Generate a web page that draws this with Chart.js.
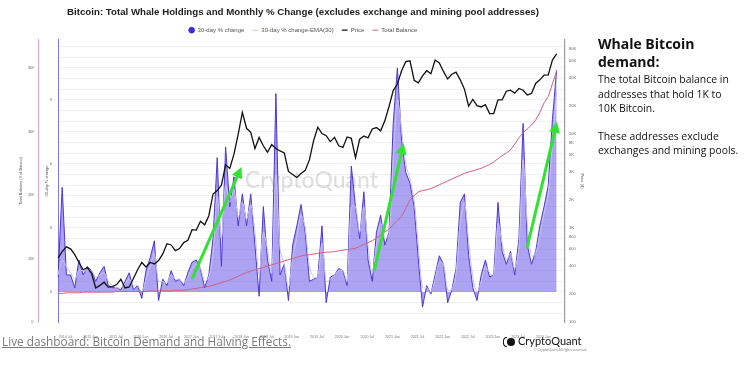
<!DOCTYPE html>
<html><head><meta charset="utf-8">
<script src="https://cdn.jsdelivr.net/npm/chart.js@4.4.1/dist/chart.umd.min.js"></script>
<style>
html,body{margin:0;padding:0;background:#fff;width:750px;height:379px;overflow:hidden;}
body{position:relative;}
#wrap{position:absolute;left:0;top:0;width:606px;height:340px;}
#side{position:absolute;left:598px;top:35px;width:152px;font-family:'Open Sans',sans-serif;color:#111;}
#side .h{font-weight:700;font-size:14px;line-height:18px;}
#side .p{font-size:10.4px;line-height:14.5px;margin-top:1px;}
#side .p2{margin-top:13px;}
#link{position:absolute;left:2px;top:333px;font-family:'Open Sans',sans-serif;font-size:11.8px;color:#7a7a7a;text-decoration:underline;white-space:nowrap;}
#logo{position:absolute;left:507px;top:334px;width:80px;font-family:'Lato','Open Sans',sans-serif;color:#111;}
#logo .t{font-size:11px;line-height:13px;white-space:nowrap;}
#logo .i{display:inline-block;width:8px;height:8px;border-radius:50%;background:#111;vertical-align:-1px;margin-right:3px;position:relative;}
#logo .i:before{content:'';position:absolute;left:-4px;top:-1px;width:4px;height:10px;border:1.6px solid #111;border-right:none;border-radius:6px 0 0 6px;box-sizing:border-box;}
#logo .c{font-size:3.5px;color:#888;text-align:right;margin-top:1px;white-space:nowrap;}
</style></head><body>
<div id="wrap"><canvas id="c" width="606" height="340" style="width:606px;height:340px"></canvas></div>
<div id="side">
  <div class="h">Whale Bitcoin<br>demand:</div>
  <div class="p">The total Bitcoin balance in<br>addresses that hold 1K to<br>10K Bitcoin.</div>
  <div class="p p2">These addresses exclude<br>exchanges and mining pools.</div>
</div>
<div id="link">Live dashboard: Bitcoin Demand and Halving Effects.</div>
<div id="logo"><div class="t"><span class="i"></span>CryptoQuant</div><div class="c">© CryptoQuant All rights reserved.</div></div>
<script>
// ---- data (monthly, starting 2014 Apr) ----
const startYear = 2014, startMonth = 4, monthCount = 122; // axis runs to 2024 May
const monthNames = ['Jan','Feb','Mar','Apr','May','Jun','Jul','Aug','Sep','Oct','Nov','Dec'];

// 30-day % change
const pctChange = [
  0.7, 4.9, 0.8, 0.8, 0.2, 1.5, 0.8, 1.2, 1.0,
  0.5, 0.9, 1.2, 0.3, 0.2, 0.2, 0.1, 0.5, 0.9, 0.1, 0.3, -0.3,
  1.0, 1.6, 2.4, -0.4, 0.6, 0.3, 1.0, 0.5, 0.6, 0.3, 0.9, 1.4,
  1.5, 1.1, 0.2, 0.8, 2.5, 6.3, 1.2, 6.8, 4.0, 5.4, 3.1, 4.6,
  3.1, 4.6, 2.2, -0.2, 4.0, 1.5, 0.5, 9.3, 0.8, 1.3, -0.4, 2.2,
  3.1, 4.1, 2.8, 0.5, 0.6, 0.7, 3.1, -0.5, 0.7, 0.8, 1.1, 1.0,
  0.3, 5.9, 4.0, 2.5, 4.7, 1.5, 0.5, 2.8, 3.6, 2.2, 2.8, 7.9,
  10.5, 7.1, 5.6, 5.1, 4.0, 1.5, -0.7, 0.3, -0.1, 0.8, 1.7, 1.3,
  -0.5, 0.1, 1.1, 4.2, 4.6, 1.7, 0.2, -0.4, 0.8, 1.5, 0.7, 0.8,
  4.2, 1.9, 1.3, 1.9, 0.8, 2.5, 7.9, 2.2, 1.3, 1.9, 3.1, 4.0,
  5.0, 8.1, 10.4
];
// 30-day % change EMA(30)
const pctEma = [
  0.8, 1.5, 1.2, 0.9, 0.6, 1.0, 1.0, 1.0, 1.0,
  0.7, 0.8, 0.9, 0.5, 0.3, 0.2, 0.2, 0.4, 0.6, 0.3, 0.3, 0.0,
  0.6, 1.2, 1.8, 0.5, 0.5, 0.4, 0.8, 0.6, 0.6, 0.4, 0.7, 1.1,
  1.3, 1.1, 0.5, 0.7, 1.8, 4.5, 2.5, 5.0, 4.2, 4.8, 3.5, 4.2,
  3.4, 4.1, 2.8, 0.8, 2.8, 2.0, 0.9, 5.5, 2.0, 1.3, 0.2, 1.6,
  2.6, 3.6, 3.0, 1.2, 0.7, 0.7, 2.3, 0.5, 0.6, 0.8, 1.0, 1.0,
  0.5, 4.0, 4.0, 2.8, 4.0, 2.2, 0.9, 2.2, 3.2, 2.5, 2.7, 6.2,
  9.0, 7.6, 6.0, 5.3, 4.3, 2.2, 0.2, 0.2, 0.0, 0.6, 1.4, 1.3,
  0.1, 0.1, 0.9, 3.3, 4.2, 2.4, 0.7, 0.0, 0.5, 1.2, 0.9, 0.8,
  3.2, 2.3, 1.5, 1.8, 1.1, 2.1, 6.2, 3.2, 1.7, 1.8, 2.7, 3.7,
  4.6, 7.0, 9.4
];
// Price ($)
const price = [
  480, 560, 630, 600, 520, 430, 360, 380, 330,
  230, 245, 265, 235, 238, 250, 285, 230, 236, 290, 360, 430,
  385, 430, 415, 450, 530, 680, 660, 575, 605, 700, 740, 960,
  950, 1180, 1080, 1350, 2300, 2500, 2850, 4700, 4300, 6100, 9900, 17000,
  11500, 10400, 7000, 9200, 7500, 6400, 7700, 7000, 6600, 6300, 4000, 3700,
  3450, 3800, 4100, 5300, 8500, 11800, 10100, 9600, 8300, 9200, 7500, 7200,
  9300, 9000, 5600, 8800, 9500, 9100, 11300, 11700, 10800, 13800, 19600, 29000,
  34000, 47000, 58800, 60000, 37300, 35000, 41500, 47100, 43800, 61300, 57000, 46300,
  38500, 43200, 45500, 37700, 30000, 19800, 23300, 20000, 19400, 20500, 16500, 16500,
  23100, 23100, 28500, 29300, 27200, 30500, 29200, 26000, 27000, 34500, 37700, 42300,
  42600, 61200, 71000
];
// Total Balance (millions of BTC)
const totalBalance = [
  0.45, 0.45, 0.46, 0.46, 0.46, 0.46, 0.47, 0.47, 0.47,
  0.47, 0.47, 0.47, 0.47, 0.47, 0.48, 0.48, 0.48, 0.48, 0.48, 0.48, 0.48,
  0.48, 0.49, 0.49, 0.49, 0.49, 0.49, 0.49, 0.50, 0.50, 0.50, 0.51, 0.52,
  0.53, 0.54, 0.55, 0.56, 0.58, 0.60, 0.62, 0.64, 0.66, 0.69, 0.72, 0.75,
  0.78, 0.80, 0.82, 0.84, 0.86, 0.88, 0.90, 0.92, 0.94, 0.96, 0.98, 1.00,
  1.02, 1.04, 1.05, 1.06, 1.07, 1.08, 1.09, 1.10, 1.10, 1.11, 1.12, 1.13,
  1.14, 1.15, 1.16, 1.19, 1.22, 1.25, 1.28, 1.32, 1.37, 1.42, 1.46, 1.53,
  1.60, 1.66, 1.79, 1.92, 1.99, 2.05, 2.07, 2.08, 2.10, 2.13, 2.16, 2.19,
  2.22, 2.25, 2.28, 2.31, 2.34, 2.36, 2.38, 2.40, 2.42, 2.45, 2.48, 2.52,
  2.57, 2.62, 2.66, 2.71, 2.80, 2.90, 2.98, 3.04, 3.10, 3.18, 3.30, 3.45,
  3.55, 3.75, 3.95
];
// tick labels
const balanceTicks = [0, 1, 2, 3, 4];
const pctLabelTicks = [0, 3, 6, 9];
const priceTicks = [100, 200, 400, 600, 800, 1000, 2000, 4000, 6000, 8000, 10000, 20000, 40000, 60000, 80000];
// green trend arrows: [month index, 30-day % change]
const arrowStart = [[32.1, 0.66], [75.5, 1.03], [112.0, 2.12]];
const arrowEnd   = [[43.8, 5.86], [82.5, 6.97], [119.1, 7.98]];

const months = [];
for (let k = 0; k < monthCount; k++) {
  const m = (startMonth - 1 + k);
  months.push((startYear + Math.floor(m / 12)) + ' ' + monthNames[m % 12]);
}

const FONT = "'Liberation Sans', Arial, sans-serif";

const watermark = {
  id: 'watermark',
  beforeDatasetsDraw(chart) {
    const {ctx, chartArea: a} = chart;
    ctx.save();
    ctx.font = "500 23px 'Lato', sans-serif";
    ctx.fillStyle = 'rgba(0,0,0,0.13)';
    ctx.textAlign = 'center';
    ctx.textBaseline = 'middle';
    ctx.fillText('CryptoQuant', (a.left + a.right) / 2, (a.top + a.bottom) / 2);
    ctx.restore();
  }
};
const arrows = {
  id: 'arrows',
  afterDatasetsDraw(chart) {
    const {ctx} = chart;
    const x = chart.scales.x, y = chart.scales.yPct;
    ctx.save();
    ctx.strokeStyle = ctx.fillStyle = '#2fe32f';
    ctx.lineWidth = 3;
    ctx.lineCap = 'round';
    for (let k = 0; k < arrowStart.length; k++) {
      const x0 = x.getPixelForValue(arrowStart[k][0]), y0 = y.getPixelForValue(arrowStart[k][1]);
      const x1 = x.getPixelForValue(arrowEnd[k][0]), y1 = y.getPixelForValue(arrowEnd[k][1]);
      const ang = Math.atan2(y1 - y0, x1 - x0);
      const head = 11, half = 5.5;
      const bx = x1 - head * Math.cos(ang), by = y1 - head * Math.sin(ang);
      ctx.beginPath(); ctx.moveTo(x0, y0); ctx.lineTo(bx, by); ctx.stroke();
      ctx.beginPath(); ctx.moveTo(x1, y1);
      ctx.lineTo(bx + half * Math.sin(ang), by - half * Math.cos(ang));
      ctx.lineTo(bx - half * Math.sin(ang), by + half * Math.cos(ang));
      ctx.closePath(); ctx.fill();
    }
    ctx.restore();
  }
};

new Chart(document.getElementById('c'), {
  type: 'line',
  data: {
    labels: months,
    datasets: [
      {label: '30-day % change', data: pctChange, yAxisID: 'yPct', order: 4,
       borderColor: '#4a36da', borderWidth: 1,
       fill: {target: 'origin', above: 'rgba(112,96,232,0.58)', below: 'rgba(112,96,232,0.58)'},
       backgroundColor: 'rgba(112,96,232,0.58)', pointRadius: 0, pointStyle: 'circle', tension: 0},
      {label: '30-day % change-EMA(30)', data: pctEma, yAxisID: 'yPct', order: 3,
       borderColor: '#cbc4f3', borderWidth: 1, pointRadius: 0, pointStyle: 'line', fill: false, tension: 0.3},
      {label: 'Price', data: price, yAxisID: 'yPrice', order: 1,
       borderColor: '#111111', borderWidth: 1.3, pointRadius: 0, pointStyle: 'line', fill: false, tension: 0},
      {label: 'Total Balance', data: totalBalance, yAxisID: 'yBal', order: 2,
       borderColor: '#d2607f', borderWidth: 1, pointRadius: 0, pointStyle: 'line', fill: false, tension: 0}
    ]
  },
  options: {
    responsive: false,
    animation: false,
    layout: {padding: 0},
    plugins: {
      tooltip: {enabled: false},
      title: {display: true, text: 'Bitcoin: Total Whale Holdings and Monthly % Change (excludes exchange and mining pool addresses)',
        color: '#222', font: {family: FONT, size: 9.7, weight: 'bold', lineHeight: 1.36}, padding: {top: 6, bottom: 0}},
      legend: {display: true, position: 'top', maxHeight: 20.8,
        labels: {usePointStyle: true, boxHeight: 4, padding: 8, color: '#555', font: {family: FONT, size: 6},
          sort: (a, b) => a.datasetIndex - b.datasetIndex,
          generateLabels(chart) {
            const items = Chart.defaults.plugins.legend.labels.generateLabels(chart);
            items.forEach(it => { if (it.datasetIndex === 0) { it.fillStyle = '#3b2be0'; it.strokeStyle = '#3b2be0'; } });
            return items;
          }}}
    },
    scales: {
      x: {
        type: 'category',
        grid: {display: false}, border: {display: false},
        ticks: {autoSkip: false, maxRotation: 0, minRotation: 0, padding: 5, labelOffset: -5,
          color: '#777', font: {family: FONT, size: 3.6},
          callback(v) { const l = this.getLabelForValue(v); return (l.endsWith('Jan') || l.endsWith('Jul')) ? l : ''; }},
        afterFit(s) { s.height = 18; }
      },
      yBal: {
        type: 'linear', position: 'left', weight: 10, min: 0, max: 4.44,
        grid: {drawOnChartArea: false, drawTicks: false},
        border: {display: true, color: '#d9a8c4', width: 1},
        title: {display: true, text: 'Total Balance (# of Bitcoin)', color: '#555', font: {family: FONT, size: 4}, padding: {top: 18.3, bottom: 0}},
        ticks: {padding: 4.5, color: '#666', font: {family: FONT, size: 4},
          callback: v => v === 0 ? '0' : v + 'M'},
        afterBuildTicks(s) { s.ticks = balanceTicks.map(v => ({value: v})); },
        afterFit(s) { s.width = 38; }
      },
      yPct: {
        type: 'linear', position: 'left', weight: 0, min: -1.406, max: 11.81,
        grid: {color: '#f1f1f1', drawTicks: false},
        border: {display: true, color: '#8178e6', width: 1},
        title: {display: true, text: '30-day % change', color: '#555', font: {family: FONT, size: 4}, padding: {top: 6.3, bottom: 0}},
        ticks: {padding: 6, color: '#666', font: {family: FONT, size: 4},
          callback: v => pctLabelTicks.includes(v) ? String(v) : ''},
        afterBuildTicks(s) {
          const t = [];
          for (let k = -2; k <= 23; k++) t.push({value: k / 2});
          s.ticks = t;
        },
        afterFit(s) { s.width = 20; }
      },
      yPrice: {
        type: 'logarithmic', position: 'right', min: 100, max: 100000,
        grid: {drawOnChartArea: false, drawTicks: false},
        border: {display: true, color: '#9a9a9a', width: 1.2},
        title: {display: true, text: 'Price ($)', color: '#555', font: {family: FONT, size: 4}, padding: {top: 21.6, bottom: 0}},
        ticks: {padding: 4, color: '#666', font: {family: FONT, size: 4},
          callback: v => v >= 1000 ? (v / 1000) + 'K' : String(v)},
        afterBuildTicks(s) { s.ticks = priceTicks.map(v => ({value: v})); },
        afterFit(s) { s.width = 41; }
      }
    }
  },
  plugins: [watermark, arrows]
});
</script>
</body></html>
